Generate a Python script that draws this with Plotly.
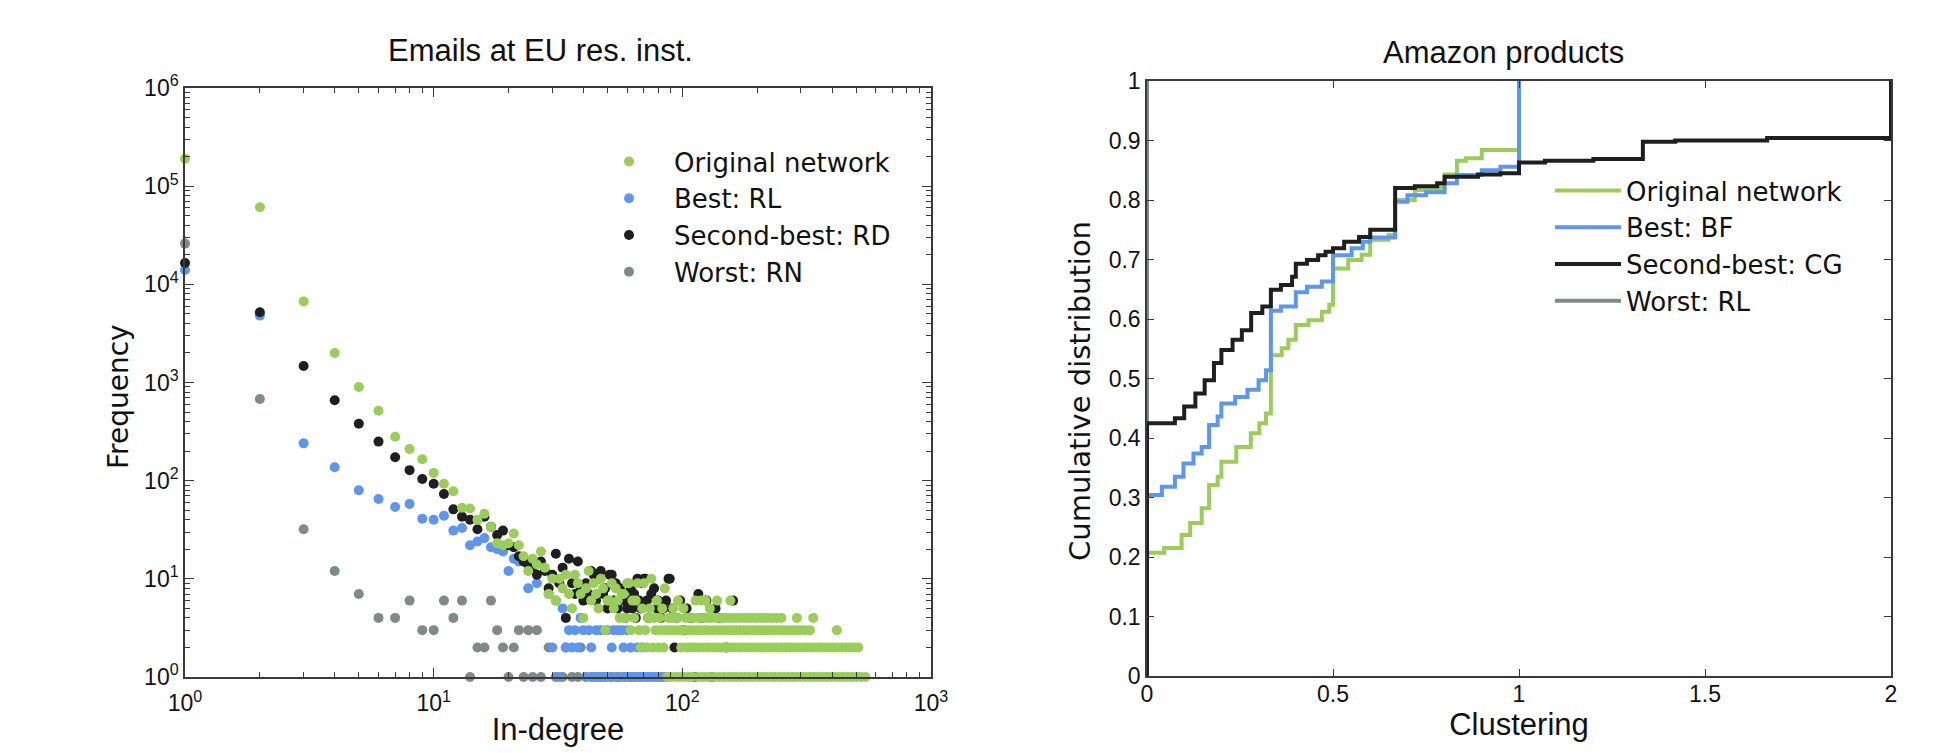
import plotly.graph_objects as go

# ------------------------------------------------------------------
# Left panel: in-degree distribution, "Emails at EU res. inst."
# ------------------------------------------------------------------
# Original network (green)
orig_deg_low = [1, 2, 3, 4, 5, 6, 7, 8, 9, 10, 11, 12, 13, 14, 15, 16, 17, 18, 19, 20,
                21, 22, 23, 24, 25, 26, 27, 28, 29, 30, 31, 32, 33, 34, 35, 36, 37, 38, 39, 40,
                41, 42, 43, 44, 45, 46, 47, 48, 50, 51, 52, 53, 54, 55, 57, 58, 60, 61, 63, 65,
                66, 69, 70, 74, 75, 79, 83, 85, 92, 96, 101, 113, 119, 124, 129, 138, 156]
orig_freq_low = [190000, 61000, 6700, 2000, 900, 515, 280, 210, 165, 120, 93, 78, 53, 52, 40, 46, 34, 23, 22, 23,
                 29, 22, 17, 12, 16, 14, 19, 13, 7, 10, 6, 10, 8, 11, 7, 5, 11, 9, 7, 4,
                 8, 12, 6, 9, 7, 5, 10, 8, 6, 6, 9, 5, 8, 6, 7, 7, 9, 9, 6, 6,
                 9, 5, 9, 5, 10, 6, 5, 8, 5, 6, 5, 6, 6, 6, 5, 6, 6]
orig_deg_f1 = [87, 90, 94, 98, 102, 106, 110, 115, 120, 125, 130, 135, 141, 147, 153, 159, 165, 172, 179, 186,
               194, 202, 210, 218, 227, 236, 246, 256, 266, 277, 288, 300, 312, 325, 338, 352, 366, 381, 396, 412,
               428, 445, 463, 482, 501, 521, 545]
orig_deg_f2 = [68, 72, 76, 80, 84, 99, 104, 108, 112, 117, 122, 127, 133, 139, 145, 151, 157, 163, 170, 177,
               184, 191, 199, 207, 215, 223, 232, 241, 251, 261, 271, 282, 294, 306, 318, 331, 345, 359, 374, 389,
               404, 420, 437, 455, 473, 492, 510]
orig_deg_f3 = [49, 62, 67, 71, 78, 82, 86, 89, 93, 97, 100, 105, 109, 114, 118, 123, 128, 134, 140, 146,
               152, 158, 164, 171, 178, 185, 193, 201, 209, 217, 226, 235, 245, 255, 265, 276, 287, 299, 311, 326, 418]
orig_deg_f4 = [56, 59, 64, 73, 77, 81, 88, 91, 95, 103, 107, 111, 116, 121, 126, 131, 137, 143, 149, 155,
               161, 168, 175, 182, 189, 197, 205, 213, 221, 230, 240, 250, 289, 336]

# Best: RL (blue)
rl_deg = [1, 2, 3, 4, 5, 6, 7, 8, 9, 10, 11, 12, 13, 14, 15, 16, 17, 18, 19, 20,
          21, 22, 24, 26, 29, 30, 31, 32, 33, 34, 35, 36, 37, 38, 39, 40, 41, 42, 43, 44,
          45, 46, 47, 48, 49, 50, 51, 52, 53, 54, 55, 56, 57, 58, 59, 60, 61, 62, 63, 64,
          65, 66, 67, 68, 69, 70, 72, 74, 76, 78, 80, 82, 84, 86]
rl_freq = [14000, 4800, 240, 137, 80, 65, 54, 58, 41, 40, 44, 31, 33, 22, 24, 26, 21, 20, 19, 12,
           16, 15, 8, 9, 7, 2, 6, 1, 5, 2, 3, 2, 3, 2, 4, 3, 1, 3, 2, 1,
           3, 1, 3, 1, 1, 3, 1, 2, 3, 1, 3, 1, 3, 2, 1, 3, 1, 2, 1, 1,
           1, 2, 1, 1, 2, 1, 1, 1, 1, 1, 1, 1, 1, 1]

# Second-best: RD (black)
rd_deg = [1, 2, 3, 4, 5, 6, 7, 8, 9, 10, 11, 12, 13, 14, 15, 16, 17, 18, 19, 20,
          21, 22, 23, 24, 25, 26, 27, 28, 29, 30, 31, 32, 33, 34, 35, 36, 37, 38, 39, 40,
          41, 42, 43, 44, 45, 46, 47, 48, 49, 50, 51, 52, 53, 54, 55, 56, 57, 58, 59, 60,
          61, 62, 63, 64, 65, 66, 67, 68, 69, 70, 71, 72, 73, 75, 77, 79, 80, 82, 84, 86,
          88, 89, 91, 93, 95, 98, 101, 104, 108, 112, 116, 120, 125, 131, 136, 142, 150, 160]
rd_freq = [16500, 5200, 1470, 660, 380, 250, 173, 128, 104, 93, 73, 51, 43, 40, 32, 43, 34, 28, 31, 22,
           21, 17, 15, 14, 13, 11, 15, 12, 8, 11, 18, 9, 13, 4, 16, 9, 7, 15, 8, 6,
           9, 7, 12, 11, 6, 10, 12, 7, 8, 5, 11, 11, 6, 9, 5, 8, 6, 7, 4, 5,
           6, 8, 5, 7, 4, 10, 6, 5, 9, 10, 10, 6, 4, 7, 8, 5, 6, 4, 5, 6,
           10, 10, 5, 2, 4, 6, 3, 5, 4, 1, 7, 4, 6, 1, 5, 4, 2, 6]

# Worst: RN (grey)
rn_deg = [1, 2, 3, 4, 5, 6, 7, 8, 9, 10, 11, 12, 13, 14, 15, 16, 17, 18, 19, 20,
          21, 22, 23, 24, 25, 26, 27, 29, 31, 33, 34, 36, 38, 39, 41, 43, 45, 47, 49, 52,
          55, 58, 62]
rn_freq = [26000, 680, 32, 12, 7, 4, 4, 6, 3, 3, 6, 4, 6, 1, 2, 2, 6, 3, 2, 1,
           2, 3, 1, 3, 1, 3, 1, 2, 1, 1, 2, 1, 1, 2, 1, 1, 1, 1, 1, 1,
           1, 1, 1]

deg_ticks = [1, 10, 100, 1000]
deg_ticktext = ["10<sup>0</sup>", "10<sup>1</sup>", "10<sup>2</sup>", "10<sup>3</sup>"]
freq_ticks = [1, 10, 100, 1000, 10000, 100000, 1000000]
freq_ticktext = ["10<sup>0</sup>", "10<sup>1</sup>", "10<sup>2</sup>", "10<sup>3</sup>",
                 "10<sup>4</sup>", "10<sup>5</sup>", "10<sup>6</sup>"]

# ------------------------------------------------------------------
# Right panel: clustering CDF, "Amazon products" (step curves)
# ------------------------------------------------------------------
orig_clu = [0, 0, 0.046, 0.093, 0.116, 0.147, 0.167, 0.19, 0.2, 0.24, 0.279, 0.302, 0.32, 0.333,
            0.362, 0.38, 0.4, 0.434, 0.47, 0.49, 0.5, 0.541, 0.577, 0.6, 0.649, 0.667, 0.72, 0.79,
            0.8, 0.833, 0.857, 0.9, 1.0]
orig_cdf = [0, 0.207, 0.215, 0.237, 0.257, 0.282, 0.321, 0.335, 0.36, 0.385, 0.408, 0.425, 0.441, 0.539,
            0.551, 0.565, 0.59, 0.598, 0.612, 0.624, 0.685, 0.699, 0.708, 0.733, 0.741, 0.8, 0.817, 0.822,
            0.843, 0.866, 0.870, 0.884, 1.0]

bf_clu = [0, 0, 0.04, 0.075, 0.098, 0.125, 0.147, 0.167, 0.19, 0.2, 0.237, 0.27, 0.3, 0.32, 0.333,
          0.36, 0.4, 0.43, 0.47, 0.5, 0.55, 0.58, 0.6, 0.667, 0.7, 0.75, 0.8, 0.833, 0.9, 0.95, 1.0]
bf_cdf = [0, 0.304, 0.318, 0.335, 0.357, 0.374, 0.385, 0.422, 0.436, 0.458, 0.469, 0.481, 0.497, 0.514, 0.614,
          0.621, 0.645, 0.654, 0.663, 0.707, 0.719, 0.73, 0.737, 0.797, 0.808, 0.813, 0.828, 0.842, 0.85, 0.856, 1.0]

cg_clu = [0, 0, 0.05, 0.075, 0.10, 0.13, 0.155, 0.18, 0.20, 0.23, 0.255, 0.28, 0.31, 0.333, 0.36,
          0.39, 0.40, 0.43, 0.46, 0.48, 0.5, 0.53, 0.57, 0.6, 0.667, 0.72, 0.78, 0.8, 0.89, 0.95,
          1.0, 1.07, 1.2, 1.333, 1.42, 1.667, 2.0]
cg_cdf = [0, 0.425, 0.425, 0.433, 0.453, 0.475, 0.497, 0.526, 0.548, 0.565, 0.581, 0.61, 0.621, 0.649, 0.657,
          0.671, 0.693, 0.699, 0.707, 0.713, 0.719, 0.73, 0.738, 0.75, 0.82, 0.823, 0.828, 0.839, 0.843, 0.845,
          0.863, 0.866, 0.869, 0.898, 0.9, 0.904, 1.0]

# Worst: RL -- all mass at clustering 0 (hidden under the left frame)
rl_clu = [0, 0]
rl_cdf = [0, 1]

# ------------------------------------------------------------------
GREEN = "#9ccc5c"
BLUE = "#5f95ea"
BLACK = "#1f1f1f"
GREY = "#808a88"
AXIS = "#3a3a3a"
SANS = "Liberation Sans, Arial, sans-serif"
WIDE = "DejaVu Sans, Verdana, sans-serif"

W, H = 1946, 753
OFF = 8  # page body margin offset


def fx(p):
    return (p - OFF) / W


def fy(p):
    return 1 - (p - OFF) / H


fig = go.Figure()

# left panel traces (drawn grey, blue, black, green; legend in original order)
sc_common = dict(mode="markers", xaxis="x", yaxis="y", legend="legend", cliponaxis=False)
fig.add_trace(go.Scatter(x=rn_deg, y=rn_freq, name="Worst: RN", legendrank=4,
                         marker=dict(color=GREY, size=10), **sc_common))
fig.add_trace(go.Scatter(x=rl_deg, y=rl_freq, name="Best: RL", legendrank=2,
                         marker=dict(color=BLUE, size=10), **sc_common))
fig.add_trace(go.Scatter(x=rd_deg, y=rd_freq, name="Second-best: RD", legendrank=3,
                         marker=dict(color=BLACK, size=10), **sc_common))
orig_deg = orig_deg_low + orig_deg_f1 + orig_deg_f2 + orig_deg_f3 + orig_deg_f4
orig_freq = (orig_freq_low + [1] * len(orig_deg_f1) + [2] * len(orig_deg_f2)
             + [3] * len(orig_deg_f3) + [4] * len(orig_deg_f4))
fig.add_trace(go.Scatter(x=orig_deg, y=orig_freq, name="Original network", legendrank=1,
                         marker=dict(color=GREEN, size=10), **sc_common))

# right panel traces (grey drawn first, legend last)
ln_common = dict(mode="lines", xaxis="x2", yaxis="y2", legend="legend2", line_shape="hv")
fig.add_trace(go.Scatter(x=rl_clu, y=rl_cdf, name="Worst: RL", legendrank=4,
                         line=dict(color=GREY, width=4), **ln_common))
fig.add_trace(go.Scatter(x=orig_clu, y=orig_cdf, name="Original network", legendrank=1,
                         line=dict(color=GREEN, width=4), **ln_common))
fig.add_trace(go.Scatter(x=bf_clu, y=bf_cdf, name="Best: BF", legendrank=2,
                         line=dict(color=BLUE, width=4), **ln_common))
fig.add_trace(go.Scatter(x=cg_clu, y=cg_cdf, name="Second-best: CG", legendrank=3,
                         line=dict(color=BLACK, width=4), **ln_common))

axis_common = dict(showline=True, linecolor=AXIS, linewidth=1.5, mirror="allticks",
                   ticks="inside", tickcolor=AXIS, tickwidth=1.2, showgrid=False, zeroline=False,
                   automargin=False,
                   tickfont=dict(family=SANS, size=23, color="#111"))

fig.update_layout(
    template="plotly_white",
    width=W, height=H,
    margin=dict(l=0, r=0, t=0, b=0, pad=0, autoexpand=False),
    paper_bgcolor="white", plot_bgcolor="white",
    showlegend=True,
    xaxis=dict(type="log", range=[0, 3], domain=[fx(185), fx(931)], anchor="y",
               tickvals=deg_ticks, ticktext=deg_ticktext, ticklen=9, ticklabelstandoff=5,
               minor=dict(ticks="inside", ticklen=5, tickcolor=AXIS, dtick="D1", showgrid=False),
               title=dict(text="In-degree", font=dict(family=SANS, size=31, color="#111"), standoff=3),
               **axis_common),
    yaxis=dict(type="log", range=[0, 6], domain=[fy(677), fy(88)], anchor="x",
               tickvals=freq_ticks, ticktext=freq_ticktext, ticklen=9,
               minor=dict(ticks="inside", ticklen=5, tickcolor=AXIS, dtick="D1", showgrid=False),
               **axis_common),
    xaxis2=dict(range=[0, 2], domain=[fx(1147), fx(1891)], anchor="y2",
                tickmode="linear", tick0=0, dtick=0.5, ticklen=7, ticklabelstandoff=-3,
                title=dict(text="Clustering", font=dict(family=SANS, size=31, color="#111"), standoff=4),
                **axis_common),
    yaxis2=dict(range=[0, 1], domain=[fy(676), fy(81)], anchor="x2",
                tickmode="linear", tick0=0, dtick=0.1, ticklen=7,
                **axis_common),
    legend=dict(x=fx(584), y=fy(138), xanchor="left", yanchor="top",
                bgcolor="rgba(0,0,0,0)", font=dict(family=WIDE, size=26, color="#111"),
                tracegroupgap=0, itemwidth=80),
    legend2=dict(x=fx(1550), y=fy(167), xanchor="left", yanchor="top",
                 bgcolor="rgba(0,0,0,0)", font=dict(family=WIDE, size=26, color="#111"),
                 tracegroupgap=0, itemwidth=66),
    annotations=[
        dict(text="Emails at EU res. inst.", x=fx(540), y=fy(51), xref="paper", yref="paper",
             showarrow=False, xanchor="center", yanchor="middle",
             font=dict(family=SANS, size=31, color="#111")),
        dict(text="Amazon products", x=fx(1503), y=fy(53), xref="paper", yref="paper",
             showarrow=False, xanchor="center", yanchor="middle",
             font=dict(family=SANS, size=31, color="#111")),
        # y-axis titles
        dict(text="Frequency", x=fx(118), y=fy(397), xref="paper", yref="paper",
             showarrow=False, xanchor="center", yanchor="middle", textangle=-90,
             font=dict(family=WIDE, size=28, color="#111")),
        dict(text="Cumulative distribution", x=fx(1080), y=fy(391), xref="paper", yref="paper",
             showarrow=False, xanchor="center", yanchor="middle", textangle=-90,
             font=dict(family=WIDE, size=29, color="#111")),
    ],
)

fig.write_html("out.html")
